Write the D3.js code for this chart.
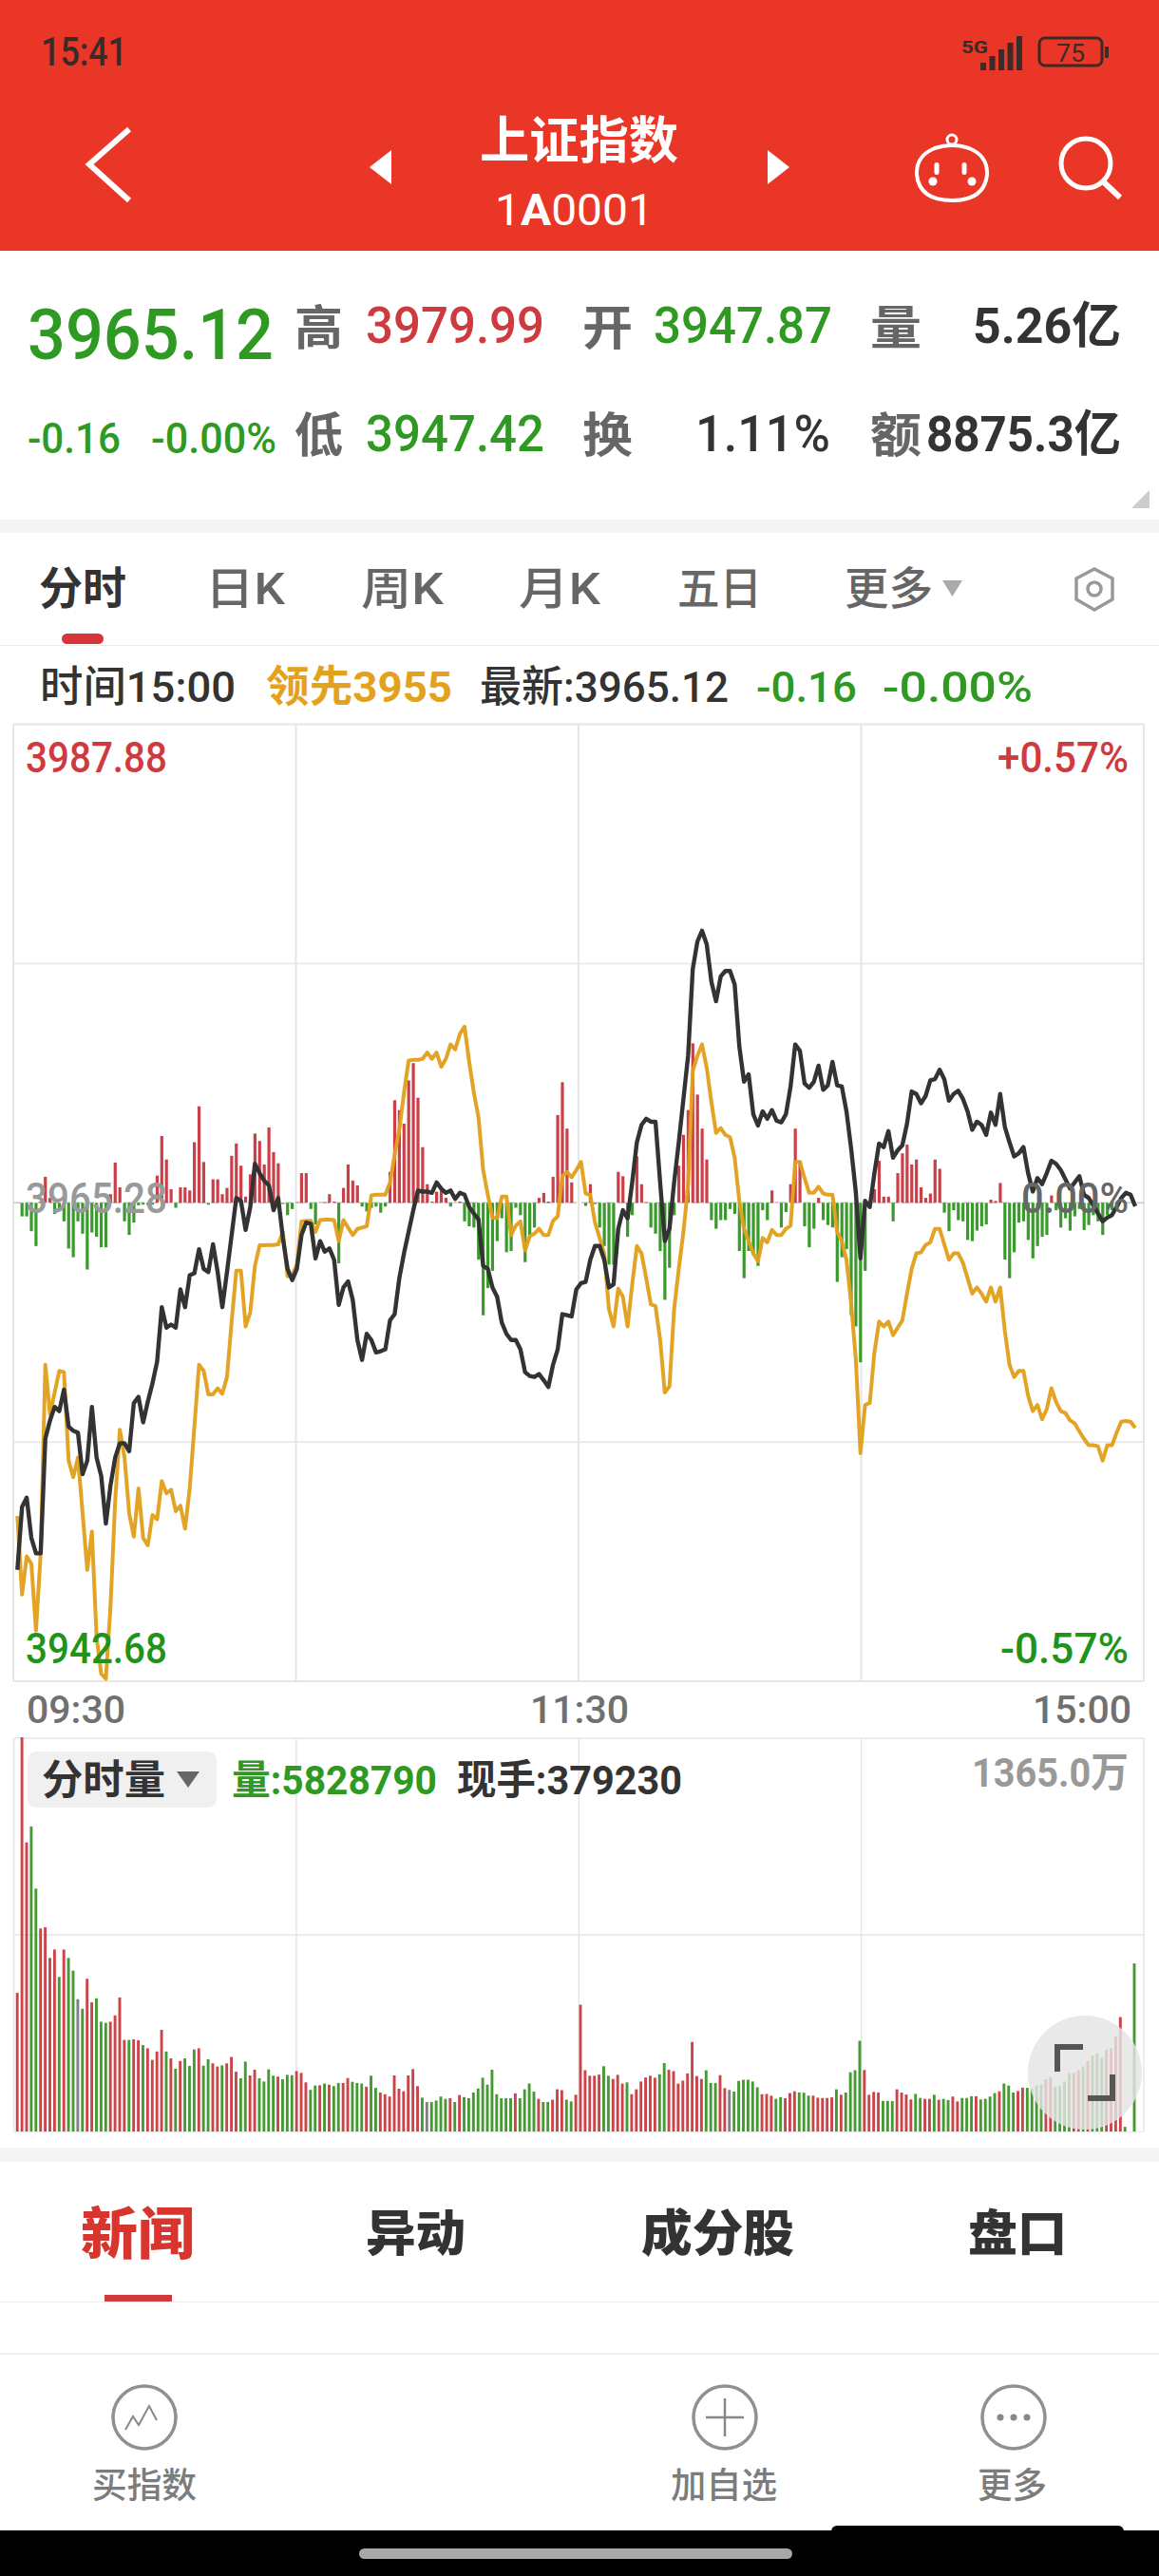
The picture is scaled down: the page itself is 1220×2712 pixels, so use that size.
<!DOCTYPE html>
<html><head><meta charset="utf-8">
<script src="https://cdn.jsdelivr.net/npm/d3@7/dist/d3.min.js"></script>
<style>html,body{margin:0;padding:0;background:#fff}svg{display:block}text{font-family:Roboto,"Noto Sans CJK SC","Noto Sans",sans-serif}</style>
</head><body><svg id="c" width="1220" height="2712"></svg>
<script>
// Change from the previous close (3965.28), in index points
const prevClose = 3965.28;
const priceRange = 22.6;
const priceDelta = [-17.34,-14.37,-13.93,-15.83,-16.56,-16.56,-11.15,-10.28,-9.64,-9.84,-8.82,-10.57,-10.77,-10.86,-12.82,-12.18,-9.64,-12.03,-12.91,-15.15,-13.34,-12.03,-11.36,-11.36,-11.74,-9.46,-9.17,-10.37,-9.40,-8.53,-7.50,-4.93,-5.90,-5.75,-5.90,-4.09,-4.93,-3.42,-3.33,-2.19,-3.12,-3.27,-1.96,-3.27,-4.93,-3.27,-1.52,0.23,0.09,-1.28,-0.20,1.84,1.40,1.05,0.82,-0.35,0.23,-1.66,-3.12,-3.65,-3.12,-1.52,-0.93,-0.99,-2.63,-1.81,-2.31,-2.16,-2.69,-4.82,-4.00,-3.71,-4.58,-6.48,-7.42,-6.19,-6.48,-7.07,-7.01,-6.92,-5.55,-5.26,
-3.56,-2.39,-1.37,-0.35,0.58,0.53,0.53,0.47,0.96,0.67,0.47,0.58,0.18,0.47,0.38,-0.20,-0.50,-0.79,-2.98,-3.12,-4.00,-4.44,-5.66,-6.19,-6.48,-6.48,-6.92,-8.00,-8.18,-8.23,-8.09,-8.38,-8.70,-7.65,-6.92,-5.26,-5.31,-5.37,-4.09,-3.80,-3.74,-2.69,-2.04,-2.04,-2.69,-4.00,-3.85,-1.23,-0.35,-0.73,0.96,2.86,3.68,3.97,3.83,3.83,0.96,-1.81,-1.23,0.96,2.86,4.91,6.95,11.04,12.35,12.85,12.21,10.45,9.52,10.69,10.95,10.95,10.31,7.39,5.72,6.07,4.18,3.65,4.32,3.97,4.38,3.88,
3.80,4.18,5.49,7.48,7.18,5.64,5.43,5.72,6.48,5.34,5.55,6.66,5.55,5.49,4.32,2.57,0.53,-2.63,0.09,-0.20,1.40,2.80,2.63,3.39,2.13,2.48,2.72,3.74,5.26,5.14,4.70,5.05,5.78,5.84,6.28,5.84,4.82,5.14,5.29,4.91,4.32,3.45,3.83,3.68,3.21,4.26,3.68,5.14,3.59,2.86,2.19,2.34,2.63,1.40,0.53,1.17,0.88,1.40,1.99,1.84,1.55,1.11,0.67,0.96,1.26,0.38,0.23,-0.12,-0.50,-0.88,-0.70,-0.58,-0.20,0.23,0.47,0.38,-0.16];
const leadDelta = [-14.80,-18.51,-16.70,-17.05,-20.21,-16.56,-7.65,-9.99,-8.96,-7.94,-8.00,-12.18,-12.96,-12.03,-14.66,-17.34,-15.53,-20.50,-22.25,-22.48,-19.04,-14.07,-10.72,-12.03,-14.66,-15.77,-13.49,-15.83,-16.18,-14.75,-14.95,-13.14,-13.72,-13.55,-14.57,-14.31,-15.39,-13.49,-10.57,-7.65,-7.94,-9.05,-9.05,-8.76,-9.02,-8.23,-5.61,-3.21,-3.21,-5.84,-5.17,-2.98,-2.01,-2.01,-1.99,-1.99,-1.96,-1.37,-3.47,-3.42,-2.92,-0.88,-0.85,-0.85,-1.37,-0.82,-0.79,-0.79,-0.82,-1.81,-0.82,-1.17,-1.52,-1.23,-1.17,-1.11,0.35,0.38,0.38,0.38,0.96,2.28,
3.45,5.20,6.72,6.75,6.75,6.80,7.10,6.80,7.10,6.42,6.80,7.48,7.24,7.97,8.32,6.66,5.20,4.03,1.55,0.38,-0.70,-0.73,0.29,0.29,-1.52,-1.08,-0.88,-2.25,-1.58,-1.46,-1.23,-1.52,-1.52,-0.85,-0.64,1.26,1.46,1.20,1.55,1.93,0.44,0.38,-0.93,-1.66,-2.39,-5.02,-5.84,-4.06,-4.44,-5.84,-3.85,-2.04,-2.39,-3.56,-4.79,-4.88,-6.48,-8.96,-8.67,-5.02,-3.12,-1.37,0.82,6.22,6.95,7.48,6.37,4.76,3.30,3.53,3.21,3.10,2.13,0.09,-1.23,-1.81,-2.39,-2.77,-1.66,-1.87,-1.28,-1.52,
-1.52,-1.23,-1.08,1.93,1.93,1.17,0.47,0.47,0.76,0.44,0.38,0.38,-1.37,-1.81,-2.69,-4.73,-7.36,-11.83,-9.55,-9.46,-7.07,-5.61,-5.84,-5.61,-6.25,-5.90,-5.55,-4.29,-3.12,-2.39,-2.34,-1.99,-1.87,-1.23,-1.23,-1.96,-2.69,-2.39,-2.39,-2.83,-3.56,-4.29,-4.00,-4.29,-4.67,-4.00,-4.67,-4.00,-6.04,-7.65,-8.23,-7.94,-7.94,-9.11,-9.84,-9.55,-10.22,-9.75,-8.76,-9.40,-9.84,-9.93,-10.28,-10.42,-10.80,-11.15,-11.45,-11.45,-11.50,-12.18,-11.45,-11.45,-10.86,-10.34,-10.31,-10.34,-10.63];
// Lead-minus-price bars around the zero line (relative units)
const flowRange = 774;
const flowBars = [0,-22,-22,-46,-70,2,42,8,-18,-12,-30,-74,-88,-30,-50,-108,-48,-55,-72,-72,14,65,25,-30,-52,-32,-4,-3,-3,-3,44,108,70,22,-8,25,25,20,98,156,66,-3,38,38,14,24,76,96,60,10,46,112,100,62,122,82,64,-2,-20,-10,1,48,48,-10,-35,1,1,14,2,-98,24,62,36,28,-6,-14,-8,-6,
-16,-6,50,166,150,128,198,226,170,90,30,2,18,20,8,-6,1,2,-30,-38,-40,-92,-182,-138,-110,-62,-25,-80,-78,-8,-20,-96,-52,-40,8,16,2,42,142,195,120,33,0,0,-5,30,-2,-40,-70,-100,-100,50,43,-55,-20,75,30,1,-40,-50,-78,-157,-105,-20,60,110,150,258,175,120,70,-28,-42,-28,-28,-10,-18,-78,-122,-78,-85,-102,
-12,-28,20,1,-40,-15,30,120,68,-38,-72,-42,8,-28,-36,-40,-128,-88,-75,-182,-200,-258,-110,-5,22,68,10,10,-30,48,80,94,62,70,25,8,15,70,55,-16,-46,-12,-28,-30,-60,-62,-45,-38,-35,5,3,32,-92,-122,-80,-32,-30,-60,-90,-70,-55,-52,12,-12,-40,-25,-45,-22,-10,-44,-36,-20,-30,-52,-20,-12,-8];
// Minute volume in 万 and its direction (r up, g down, n flat)
const volMax = 1365;
const volValues = [480,1365,1001,1056,841,703,707,601,630,535,
630,601,557,458,425,529,447,461,380,376,
380,402,464,317,317,319,316,299,288,248,
277,352,277,253,217,244,253,227,284,288,
228,250,236,225,229,236,258,207,184,242,
194,214,184,173,215,193,190,181,196,195,
209,203,170,144,159,160,166,162,157,168,
168,185,172,168,166,155,193,151,135,129,
121,194,148,139,194,216,157,117,102,102,
107,121,113,115,102,126,119,115,135,149,
186,162,214,129,115,115,115,132,115,146,
166,138,113,102,102,110,146,143,110,104,
127,439,212,
193,193,197,226,193,182,196,166,170,129,
146,173,187,193,186,198,237,214,209,166,
176,201,310,192,182,212,168,168,195,150,
144,138,175,179,179,173,153,129,130,124,
113,119,115,133,139,135,134,124,124,117,
116,116,118,146,127,135,205,212,314,213,
127,137,135,106,106,105,146,135,128,111,
130,116,113,113,127,110,113,109,121,104,
116,116,122,122,111,113,121,133,139,166,
159,135,140,152,151,149,159,162,181,187,
155,157,173,201,203,212,225,244,263,270,
255,283,288,330,396,16,0,582];
const volDir = ("rrrggrrrrg"+"rggngrrggg"+"rrrrgrrgrr"+"rrgrgrgggr"+"ggrrgrrrgg"+"rrggggrggg"+"rrrggrgrgg"+"rrgggrggrr"+"rrrrrrrgng"+"gggrgrgggg"+"gggggggrgg"+"ggrggrrrgg"+"rrr"+
"rrrggrrrgr"+"rrrrrggrrr"+"rrrrrgggrr"+"nggggggrrr"+"ggrrrgggrr"+"rrrgrggggr"+"rrrgggrrrr"+"ggrrgrggrr"+"gggrggggrg"+"ggrrggggrr"+"ggggrrgrgg"+"grrrrgng").split("");
const timeLabels = ["09:30","11:30","15:00"];
const priceLabels = ["3987.88","3965.28","3942.68"];
const pctLabels = ["+0.57%","0.00%","-0.57%"];
const gridPriceFractions = [-1,-0.5,0,0.5,1];

const RED="#cf3a3f", GREEN="#2f9a22", INK="#333333", GREY="#707070", ORANGE="#e3a21e";
const svg = d3.select("#c");
svg.append("rect").attr("width",1220).attr("height",2712).attr("fill","#fff");

function T(s,x0,x1,base,size,fill,weight){
  const n = svg.append("text").text(s).attr("x",x0).attr("y",base)
    .attr("font-size",size).attr("fill",fill).attr("font-weight",weight||400);
  if(x1!=null) n.attr("textLength",x1-x0).attr("lengthAdjust","spacingAndGlyphs");
  return n;
}
// ---------- Header
svg.append("rect").attr("width",1220).attr("height",264).attr("fill","#e93627");
T("15:41",43,134,69,42,"#3a2a28",500);
T("5G",1012,1040,56,19,"#3a2a28",700);
[0,1,2,3,4].forEach(i=>svg.append("rect").attr("x",1032+i*9.5).attr("y",66-i*7).attr("width",6).attr("height",8+i*7).attr("fill","#3a2a28"));
svg.append("rect").attr("x",1094).attr("y",40).attr("width",66).attr("height",29).attr("rx",6).attr("fill","none").attr("stroke","#3a2a28").attr("stroke-width",3);
svg.append("rect").attr("x",1163).attr("y",49).attr("width",4).attr("height",12).attr("rx",1).attr("fill","#3a2a28");
T("75",1112,1142,65,25,"#3a2a28",400);
svg.append("path").attr("d","M136 136L94 173L136 211").attr("fill","none").attr("stroke","#fff").attr("stroke-width",6);
svg.append("path").attr("d","M412 158L389 176L412 194Z").attr("fill","#fff");
svg.append("path").attr("d","M808 158L831 176L808 194Z").attr("fill","#fff");
T("上证指数",505,714,167,53,"#fff",700);
const code = T("",521,688,237,46,"#fff",400);
code.append("tspan").text("1");
code.append("tspan").attr("font-weight",700).text("A");
code.append("tspan").text("0001");
// mascot
svg.append("circle").attr("cx",1002).attr("cy",147).attr("r",5).attr("fill","none").attr("stroke","#fff").attr("stroke-width",3);
svg.append("path").attr("d","M984 156Q1002 150 1020 156Q1040 164 1039 184Q1036 211 1002 211Q968 211 965 184Q964 164 984 156Z").attr("fill","none").attr("stroke","#fff").attr("stroke-width",4);
[[982,191,4.5],[1023,191,4.5]].forEach(a=>svg.append("circle").attr("cx",a[0]).attr("cy",a[1]).attr("r",a[2]).attr("fill","#fff"));
[[986,171],[1015,171]].forEach(a=>svg.append("rect").attr("x",a[0]-2.5).attr("y",a[1]).attr("width",5).attr("height",13).attr("rx",2.5).attr("fill","#fff"));
svg.append("circle").attr("cx",1143).attr("cy",172).attr("r",26).attr("fill","none").attr("stroke","#fff").attr("stroke-width",5);
svg.append("path").attr("d","M1161 191L1179 208").attr("stroke","#fff").attr("stroke-width",6);

// ---------- Quote block
const LBL="#666";
T("3965.12",29,288,378,74,GREEN,500);
T("高",310,361,363,50,LBL,700);
T("3979.99",385,573,361,53,RED,500);
T("开",613,666,363,50,LBL,700);
T("3947.87",688,876,361,53,GREEN,500);
T("量",916,970,363,50,LBL,700);
T("5.26亿",1024,1180,361,52,INK,700);
T("-0.16",29,127,477,45,GREEN,500);
T("-0.00%",159,291,477,45,GREEN,500);
T("低",310,361,476,50,LBL,700);
T("3947.42",385,573,475,53,GREEN,500);
T("换",613,666,476,50,LBL,700);
T("1.11%",732,874,475,53,INK,500);
T("额",916,970,476,50,LBL,700);
T("8875.3亿",975,1180,475,52,INK,700);
svg.append("path").attr("d","M1210 516L1210 535L1191 535Z").attr("fill","#ccc");
svg.append("rect").attr("y",547).attr("width",1220).attr("height",14).attr("fill","#f4f4f4");

// ---------- Tabs
T("分时",41,133,636,47,INK,700);
T("日K",216,300,636,47,"#666",500);
T("周K",380,467,636,47,"#666",500);
T("月K",546,632,636,47,"#666",500);
T("五日",713,802,636,47,"#666",500);
T("更多",889,982,636,47,"#666",500);
svg.append("path").attr("d","M992 611L1013 611L1002.5 628Z").attr("fill","#aaa");
svg.append("path").attr("d","M1152 599L1171 609L1171 631L1152 642L1133 631L1133 609Z").attr("fill","none").attr("stroke","#999").attr("stroke-width",3.5);
svg.append("circle").attr("cx",1152).attr("cy",620).attr("r",7).attr("fill","none").attr("stroke","#999").attr("stroke-width",3.5);
svg.append("rect").attr("x",65).attr("y",667).attr("width",44).attr("height",11).attr("rx",5.5).attr("fill","#d8353a");
svg.append("rect").attr("y",679).attr("width",1220).attr("height",1).attr("fill","#ececec");
T("时间15:00",42,248,739,45,INK,500);
T("领先3955",280,476,739,45,ORANGE,700);
T("最新:3965.12",505,767,739,45,INK,500);
T("-0.16",796,902,739,45,GREEN,500);
T("-0.00%",929,1087,739,45,GREEN,500);

// ---------- Price chart
const plot = {l:14,r:1204,t:762.6,b:1770};
const gridX = d3.scaleLinear().domain([0,4]).range([plot.l,plot.r]);
const y = d3.scaleLinear().domain([prevClose-priceRange,prevClose+priceRange]).range([plot.b,plot.t]);
const yFlow = d3.scaleLinear().domain([-flowRange,flowRange]).range([plot.b,plot.t]);
const GRID="#e6e6e6";
const gl = svg.append("g");
gridPriceFractions.forEach(f=>{
  const yy=y(prevClose+f*priceRange);
  if(f===0) return;
  gl.append("line").attr("x1",plot.l).attr("x2",plot.r).attr("y1",yy).attr("y2",yy).attr("stroke",GRID).attr("stroke-width",Math.abs(f)===1?2:1.5);
});
d3.range(5).forEach(i=>gl.append("line").attr("x1",gridX(i)).attr("x2",gridX(i)).attr("y1",plot.t).attr("y2",plot.b).attr("stroke",GRID).attr("stroke-width",2));
gl.append("line").attr("x1",plot.l).attr("x2",plot.r).attr("y1",y(prevClose)).attr("y2",y(prevClose)).attr("stroke","#c8c8c8").attr("stroke-width",1.5).attr("stroke-dasharray","8 5");

const xFlow = d3.scaleLinear().domain([0,flowBars.length-1]).range([18.3,1175.5]);
svg.append("g").selectAll("rect").data(flowBars).join("rect")
  .attr("x",(d,i)=>xFlow(i)-1.6).attr("width",3.2)
  .attr("y",d=>yFlow(Math.max(d,0))).attr("height",d=>Math.abs(yFlow(d)-yFlow(0)))
  .attr("fill",d=>d>=0?"#cb3f48":"#3a9a2c");

const xLead = d3.scaleLinear().domain([0,leadDelta.length-1]).range([18.3,1195]);
const xPrice = d3.scaleLinear().domain([0,priceDelta.length-1]).range([18.3,1195]);
const mk = xs => d3.line().x((d,i)=>xs(i)).y(d=>y(prevClose+d)).curve(d3.curveLinear);
svg.append("path").attr("d",mk(xLead)(leadDelta)).attr("fill","none").attr("stroke","#e2a01d").attr("stroke-width",4).attr("stroke-linejoin","round").attr("opacity",0.96);
svg.append("path").attr("d",mk(xPrice)(priceDelta)).attr("fill","none").attr("stroke","#333").attr("stroke-width",4.4).attr("stroke-linejoin","round");

// axis labels
T(priceLabels[0],27,176,813,45,RED,500);
T(priceLabels[1],27,176,1277,45,"#999",500);
T(priceLabels[2],27,176,1751,45,"#1f931a",500);
T(pctLabels[0],1050,1188,813,45,RED,500);
T(pctLabels[1],1075,1188,1277,45,"#666",500);
T(pctLabels[2],1053,1188,1751,45,"#1f931a",500);
const timeX=[28,558,1087], timeW=104;
timeLabels.forEach((s,i)=>T(s,timeX[i],timeX[i]+timeW,1814,41,GREY,500));

// ---------- Volume chart
const vp = {l:14.6,r:1204,t:1830,b:2244};
const vGridX = d3.scaleLinear().domain([0,4]).range([vp.l,vp.r]);
const yVol = d3.scaleLinear().domain([0,volMax]).range([vp.b,vp.t-1]);
[vp.t,(vp.t+vp.b)/2].forEach(yy=>gl.append("line").attr("x1",vp.l).attr("x2",vp.r).attr("y1",yy).attr("y2",yy).attr("stroke",GRID).attr("stroke-width",1.5));
gl.append("line").attr("x1",vp.l).attr("x2",vp.r).attr("y1",vp.b+.5).attr("y2",vp.b+.5).attr("stroke",GRID).attr("stroke-width",1);
d3.range(5).forEach(i=>gl.append("line").attr("x1",vGridX(i)).attr("x2",vGridX(i)).attr("y1",vp.t).attr("y2",vp.b).attr("stroke",GRID).attr("stroke-width",1.5));
const xVol = d3.scaleLinear().domain([0,volValues.length-1]).range([18.2,1194]);
const volColor = {r:"#cb444a",g:"#459a33",n:"#808080"};
svg.append("g").selectAll("rect").data(volValues).join("rect")
  .attr("x",(d,i)=>xVol(i)-1.45).attr("width",2.9)
  .attr("y",d=>yVol(d)).attr("height",d=>vp.b-yVol(d))
  .attr("fill",(d,i)=>volColor[volDir[i]]);
svg.append("rect").attr("x",29).attr("y",1844).attr("width",199).attr("height",59).attr("rx",9).attr("fill","#f0f0f0");
T("分时量",44,174,1889,43,INK,700);
svg.append("path").attr("d","M186 1865L210 1865L198 1882Z").attr("fill","#666");
T("量:5828790",244,460,1889,43,GREEN,700);
T("现手:379230",481,718,1889,43,INK,700);
T("1365.0万",1023,1188,1881,43,"#999",700);
svg.append("circle").attr("cx",1142).attr("cy",2182).attr("r",60).attr("fill","#e4e4e4").attr("opacity",0.82);
svg.append("path").attr("d","M1113 2181L1113 2155L1140 2155").attr("fill","none").attr("stroke","#555").attr("stroke-width",6);
svg.append("path").attr("d","M1145 2209L1171 2209L1171 2184").attr("fill","none").attr("stroke","#555").attr("stroke-width",6);

// ---------- Lower tabs
svg.append("rect").attr("y",2261).attr("width",1220).attr("height",15).attr("fill","#f4f4f4");
T("新闻",85,205,2373,59,"#d8352f",900);
T("异动",385,490,2370,52,INK,900);
T("成分股",675,836,2370,52,INK,900);
T("盘口",1019,1123,2370,52,INK,900);
svg.append("rect").attr("x",110).attr("y",2416).attr("width",71).attr("height",7).attr("fill","#d0393e");
svg.append("rect").attr("y",2423).attr("width",1220).attr("height",1).attr("fill","#eee");
svg.append("rect").attr("y",2477).attr("width",1220).attr("height",2).attr("fill","#efefef");
[[152,"买指数",97,207],[763,"加自选",706,818],[1067,"更多",1029,1102]].forEach(a=>{
  svg.append("circle").attr("cx",a[0]).attr("cy",2545).attr("r",33).attr("fill","none").attr("stroke","#909090").attr("stroke-width",3.5);
  T(a[1],a[2],a[3],2630,37,"#7c7c7c",500);
});
svg.append("path").attr("d","M132 2558L140 2544L146 2553L157 2533L165 2548").attr("fill","none").attr("stroke","#888").attr("stroke-width",2);
svg.append("path").attr("d","M743 2545L783 2545M763 2525L763 2565").attr("stroke","#888").attr("stroke-width",2.5);
[1053,1067,1081].forEach(x=>svg.append("circle").attr("cx",x).attr("cy",2545).attr("r",3.5).attr("fill","#888"));

// ---------- Footer
svg.append("rect").attr("y",2664).attr("width",1220).attr("height",48).attr("fill","#000");
svg.append("rect").attr("x",378).attr("y",2683).attr("width",456).attr("height",11).attr("rx",5.5).attr("fill","#a8a8a8");
svg.append("rect").attr("x",875).attr("y",2659).attr("width",308).attr("height",28).attr("rx",6).attr("fill","#000");
</script></body></html>
